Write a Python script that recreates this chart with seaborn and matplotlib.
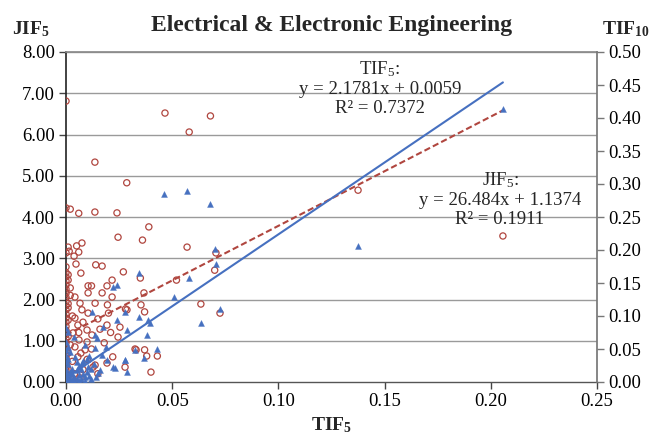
import matplotlib
matplotlib.use("Agg")
import matplotlib.pyplot as plt
import seaborn as sns
import numpy as np
import pandas as pd

# ---------------- data ----------------
title = "Electrical & Electronic Engineering"
x_ticks = [0.00, 0.05, 0.10, 0.15, 0.20, 0.25]
left_ticks = [0, 1, 2, 3, 4, 5, 6, 7, 8]
right_ticks = [0.00, 0.05, 0.10, 0.15, 0.20, 0.25, 0.30, 0.35, 0.40, 0.45, 0.50]

# JIF5 (left axis) vs TIF5
jif_x = [0.000, 0.0466, 0.068, 0.058, 0.0136, 0.0286, 0.000, 0.002, 0.006, 0.0136, 0.024, 0.039,
         0.0245, 0.036, 0.057, 0.001, 0.005, 0.0075, 0.000, 0.0015, 0.006, 0.0038, 0.000, 0.0047,
         0.014, 0.017, 0.007, 0.027, 0.0706, 0.070, 0.052, 0.0635, 0.0725, 0.043, 0.040, 0.2057,
         0.1375, 0.035,
         0.001, 0.0104, 0.012, 0.0193, 0.0217, 0.002, 0.0104, 0.0367, 0.017, 0.0217, 0.0042, 0.0066,
         0.0137, 0.0353, 0.037, 0.0287, 0.0075, 0.0104, 0.0042, 0.015, 0.0056, 0.0193, 0.0254, 0.0099,
         0.0122, 0.0033, 0.0061, 0.0099, 0.0042, 0.0325, 0.037, 0.022, 0.009, 0.0056, 0.0278, 0.0066,
         0.0193, 0.0127, 0.0195, 0.020, 0.016, 0.0245, 0.033, 0.038, 0.0137, 0.028, 0.008, 0.003,
         0.002, 0.003, 0.001, 0.002, 0.004, 0.010, 0.006, 0.008, 0.012, 0.015, 0.003, 0.007, 0.018,
         0.021,
         0.000, 0.000, 0.000, 0.000, 0.000, 0.000, 0.000, 0.000, 0.000, 0.000, 0.000, 0.000, 0.000,
         0.000, 0.000, 0.000, 0.000, 0.000, 0.000, 0.000, 0.000, 0.000, 0.000, 0.000, 0.000, 0.000,
         0.000, 0.000, 0.000,
         0.001, 0.001, 0.001, 0.001, 0.001, 0.001]
jif_y = [6.81, 6.52, 6.45, 6.06, 5.33, 4.83, 4.22, 4.19, 4.09, 4.12, 4.10, 3.76,
         3.51, 3.44, 3.27, 3.27, 3.30, 3.37, 3.13, 3.17, 3.15, 3.05, 2.79, 2.86,
         2.84, 2.81, 2.64, 2.67, 3.13, 2.71, 2.47, 1.89, 1.67, 0.63, 0.24, 3.54,
         4.65, 2.52,
         2.47, 2.33, 2.33, 2.33, 2.47, 2.28, 2.16, 2.16, 2.16, 2.06, 2.06, 1.91,
         1.91, 1.87, 1.70, 1.75, 1.75, 1.67, 1.55, 1.53, 1.38, 1.38, 1.33, 1.26,
         1.14, 1.19, 1.02, 0.97, 0.85, 0.80, 0.78, 0.61, 0.78, 0.61, 0.36, 0.10,
         0.46, 0.36, 1.87, 1.67, 1.28, 1.09, 0.78, 0.63, 0.41, 1.77, 0.30, 0.50,
         0.90, 1.60, 1.80, 2.10, 0.20, 0.55, 1.20, 1.45, 0.80, 0.20, 0.05, 0.70, 0.95,
         1.20,
         0.05, 0.12, 0.20, 0.28, 0.35, 0.42, 0.50, 0.58, 0.66, 0.75, 0.85, 0.95, 1.05,
         1.15, 1.25, 1.35, 1.45, 1.55, 1.65, 1.75, 1.85, 1.95, 2.05, 2.15, 2.25, 2.35,
         2.45, 2.55, 2.65,
         0.30, 0.70, 1.10, 1.50, 1.90, 2.60]

# TIF10 (right axis) vs TIF5
tif_x = [0.2057, 0.046, 0.057, 0.068, 0.1375, 0.070, 0.0706, 0.0345, 0.058, 0.051, 0.0725, 0.0635,
         0.0395, 0.043, 0.024, 0.022, 0.0122, 0.024, 0.0174, 0.0287, 0.0386, 0.0137, 0.038, 0.0325,
         0.0367, 0.0193, 0.022, 0.0278, 0.015, 0.0104, 0.0042, 0.0075, 0.001, 0.001, 0.000, 0.004,
         0.009, 0.0137, 0.017, 0.028, 0.0345, 0.000, 0.0146, 0.019, 0.016, 0.0287, 0.023, 0.028,
         0.000, 0.001, 0.002, 0.003, 0.004, 0.005, 0.006, 0.007, 0.008, 0.009, 0.010, 0.011, 0.002,
         0.003, 0.005, 0.006, 0.001, 0.004, 0.000, 0.000, 0.000, 0.001, 0.007, 0.008, 0.012, 0.013,
         0.000, 0.000, 0.002, 0.011, 0.009, 0.006, 0.012, 0.014, 0.003, 0.005, 0.010, 0.000, 0.000]
tif_y = [0.414, 0.285, 0.290, 0.270, 0.206, 0.202, 0.179, 0.165, 0.157, 0.129, 0.111, 0.090,
         0.090, 0.050, 0.147, 0.144, 0.106, 0.094, 0.083, 0.079, 0.094, 0.071, 0.071, 0.048,
         0.036, 0.033, 0.023, 0.033, 0.014, 0.023, 0.038, 0.029, 0.053, 0.076, 0.082, 0.068,
         0.056, 0.051, 0.041, 0.106, 0.099, 0.048, 0.067, 0.053, 0.018, 0.015, 0.021, 0.033,
         0.002, 0.004, 0.006, 0.003, 0.008, 0.005, 0.010, 0.004, 0.012, 0.007, 0.015, 0.009, 0.015,
         0.020, 0.018, 0.025, 0.028, 0.001, 0.010, 0.020, 0.030, 0.035, 0.020, 0.032, 0.020, 0.028,
         0.060, 0.040, 0.045, 0.040, 0.001, 0.001, 0.005, 0.008, 0.012, 0.030, 0.035, 0.015, 0.005]

# regression fits (slope, intercept) and range of x
tif_fit = (2.1781, 0.0059)
jif_fit = (26.484, 1.1374)
fit_x_range = (0.0, 0.2057)

# ---------------- style ----------------
sns.set_theme(style="white")
plt.rcParams['font.family'] = ['Liberation Serif', 'DejaVu Serif']
plt.rcParams['mathtext.fontset'] = 'custom'
plt.rcParams['mathtext.rm'] = 'Liberation Serif'
plt.rcParams['mathtext.it'] = 'Liberation Serif:italic'
plt.rcParams['mathtext.bf'] = 'Liberation Serif:bold'

RED = "#B0463F"
BLUE = "#4670C0"

fig = plt.figure(figsize=(6.51, 4.37), dpi=100)
ax = fig.add_axes([66/651, 1-382/437, 531/651, 330/437])
ax2 = ax.twinx()

df_j = pd.DataFrame({"x": jif_x, "y": jif_y})
df_t = pd.DataFrame({"x": tif_x, "y": tif_y})

ax.set_ylim(0, 8)
ax.set_xlim(0, 0.25)
ax2.set_ylim(0, 0.5)
ax.set_yticks(left_ticks)
ax.set_yticklabels([f"{v:.2f}" for v in left_ticks])
ax.set_xticks(x_ticks)
ax.set_xticklabels([f"{v:.2f}" for v in x_ticks])
ax2.set_yticks(right_ticks)
ax2.set_yticklabels([f"{v:.2f}" for v in right_ticks])
for v in left_ticks[1:]:
    ax.axhline(v, color="#9a9a9a", lw=1.0, zorder=0)

sns.scatterplot(data=df_j, x="x", y="y", ax=ax, marker="o", s=20, zorder=3)
pts = ax.collections[-1]
pts.set_facecolor("none")
pts.set_edgecolor(RED)
pts.set_linewidth(0.9)

sns.scatterplot(data=df_t, x="x", y="y", ax=ax2, marker="^", s=18, color=BLUE,
                edgecolor=BLUE, linewidth=0.3, zorder=3)

fx = np.array(fit_x_range)
sns.lineplot(x=fx, y=jif_fit[0]*fx + jif_fit[1], ax=ax, color=RED, lw=1.5,
             linestyle=(0, (3.0, 1.5)), zorder=4)
sns.lineplot(x=fx, y=tif_fit[0]*fx + tif_fit[1], ax=ax2, color=BLUE, lw=1.5, zorder=4)

for a in (ax, ax2):
    a.set_xlabel("")
    a.set_ylabel("")
    for s in a.spines.values():
        s.set_visible(False)
ax.spines['left'].set_visible(True)
ax.spines['left'].set_color("#222222")
ax.spines['left'].set_linewidth(1.2)
ax.spines['bottom'].set_visible(True)
ax.spines['bottom'].set_color("#555555")
ax.spines['bottom'].set_linewidth(1.0)
ax.spines['top'].set_visible(True)
ax.spines['top'].set_color("#8a8a8a")
ax2.spines['right'].set_visible(True)
ax2.spines['right'].set_color("#777777")

ax.tick_params(axis='both', which='both', direction='out', length=5, width=1,
               color="#444444", labelsize=13.5, labelcolor="black", pad=3,
               left=True, bottom=True)
ax2.tick_params(axis='y', direction='out', length=5, width=1, color="#777777",
                labelsize=13.5, labelcolor="black", pad=3, right=True)

ax.set_title(title, fontsize=17, fontweight="bold", pad=15)

ax.text(-0.066, 1.068, r"JIF$_\mathbf{5}$", transform=ax.transAxes, ha="center", va="center",
        fontsize=14, fontweight="bold")
fig.text(0.998, 1 - 29/437, r"TIF$_\mathbf{10}$", ha="right", va="center",
         fontsize=14, fontweight="bold")
ax.text(0.50, -0.132, r"TIF$_\mathbf{5}$", transform=ax.transAxes, ha="center", va="center",
        fontsize=14, fontweight="bold")

ax.text((380-66)/531, (382-88)/330, "TIF$_5$:\ny = 2.1781x + 0.0059\nR² = 0.7372",
        transform=ax.transAxes, ha="center", va="center", fontsize=13.5, linespacing=1.15,
        multialignment="center")
ax.text((500-66)/531, (382-199)/330, "JIF$_5$:\ny = 26.484x + 1.1374\nR² = 0.1911",
        transform=ax.transAxes, ha="center", va="center", fontsize=13.5, linespacing=1.15,
        multialignment="center")

fig.savefig("out.png", dpi=100)
